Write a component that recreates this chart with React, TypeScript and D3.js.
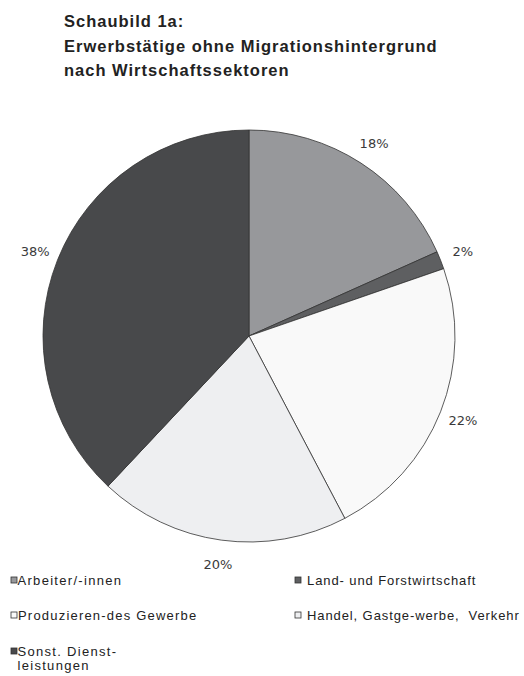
import React from "react";
import * as d3 from "d3";

const categories = [
  "Arbeiter/-innen",
  "Land- und Forstwirtschaft",
  "Produzieren-des Gewerbe",
  "Handel, Gastge-werbe,  Verkehr",
  "Sonst. Dienst-\nleistungen",
];
const values = [18.3, 1.4, 22.6, 19.7, 38.0];
const valueLabels = ["18%", "2%", "22%", "20%", "38%"];
const colors = ["#97989b", "#5e5f61", "#f9f9f9", "#eeeff1", "#48494b"];
const titleLines = [
  "Schaubild 1a:",
  "Erwerbstätige ohne Migrationshintergrund",
  "nach Wirtschaftssektoren",
];

const W = 524;
const H = 676;
const cx = 249;
const cy = 336;
const R = 206;
const labelR = 230;

export default function App() {
  const pie = d3
    .pie<number>()
    .sort(null)
    .value((d) => d);
  const arcs = pie(values);
  const arc = d3.arc<d3.PieArcDatum<number>>().innerRadius(0).outerRadius(R);

  const legendPos = [
    { x: 11, y: 585, tx: 17.5, ls: 1.3 },
    { x: 295, y: 585, tx: 307, ls: 0.9 },
    { x: 11, y: 620, tx: 18, ls: 1.2 },
    { x: 295, y: 620, tx: 307, ls: 0.9 },
    { x: 11, y: 656, tx: 17.5, ls: 1.3 },
  ];

  return (
    <svg
      width={W}
      height={H}
      style={{ position: "absolute", left: 0, top: 0, background: "#fff" }}
    >
      <rect x={0} y={0} width={W} height={H} fill="#fff" />
      {titleLines.map((t, i) => (
        <text
          key={i}
          x={64}
          y={27 + i * 24.5}
          fontFamily="'Liberation Sans', Arial, sans-serif"
          fontWeight="bold"
          fontSize={16.5}
          letterSpacing={1}
          fill="#222"
        >
          {t}
        </text>
      ))}
      <g transform={`translate(${cx},${cy})`}>
        {arcs.map((a, i) => (
          <path
            key={i}
            d={arc(a) || ""}
            fill={colors[i]}
            stroke="#333"
            strokeWidth={0.8}
          />
        ))}
        {arcs.map((a, i) => {
          const mid = (a.startAngle + a.endAngle) / 2;
          const x = Math.sin(mid) * labelR;
          const y = -Math.cos(mid) * labelR;
          return (
            <text
              key={i}
              x={x}
              y={y}
              dy="0.36em"
              textAnchor="middle"
              fontFamily="'DejaVu Sans', sans-serif"
              fontSize={13}
              fill="#3a3a3a"
            >
              {valueLabels[i]}
            </text>
          );
        })}
      </g>
      {categories.map((c, i) => {
        const p = legendPos[i];
        const lines = c.split("\n");
        return (
          <g key={i}>
            <rect
              x={p.x}
              y={p.y - 8}
              width={6}
              height={6}
              fill={colors[i]}
              stroke="#333"
              strokeWidth={0.8}
            />
            {lines.map((l, j) => (
              <text
                key={j}
                x={p.tx}
                y={p.y + j * 13.5}
                fontFamily="'Liberation Sans', Arial, sans-serif"
                fontSize={13}
                letterSpacing={p.ls}
                fill="#222"
                style={{ whiteSpace: "pre" }}
              >
                {l}
              </text>
            ))}
          </g>
        );
      })}
    </svg>
  );
}
